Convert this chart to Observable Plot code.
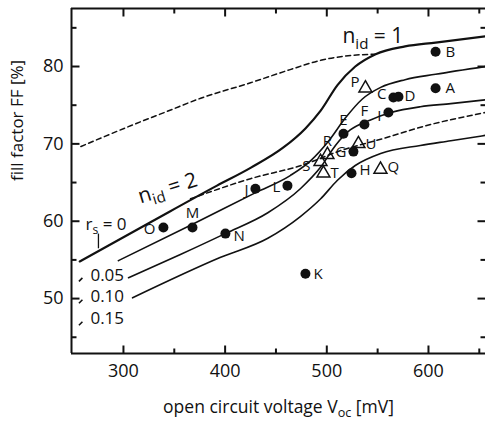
<!DOCTYPE html>
<html><head><meta charset="utf-8">
<script src="https://cdn.jsdelivr.net/npm/d3@7"></script>
<script src="https://cdn.jsdelivr.net/npm/@observablehq/plot@0.6"></script>
<style>html,body{margin:0;padding:0;background:#fff;overflow:hidden} svg{display:block}</style>
</head><body><div id="chart"></div>
<script>
// ---------- data ----------
const pointNames = ["A","B","C","D","E","F","G","H","I","J","K","L","M","N","O","P","Q","R","S","T","U"];
const pointVoc  = [607,607,565.5,570.5,516.4,537,526.2,524.3,560.6,429.8,479,461.3,367.9,400.3,339.3,538,552.8,500.6,493.8,496.7,531.1];
const pointFF   = [77.2,81.9,76.0,76.1,71.3,72.5,69.0,66.2,74.05,64.2,53.2,64.6,59.2,58.4,59.2,77.2,66.7,68.6,67.7,66.2,70.0];
const pointKind = ["dot","dot","dot","dot","dot","dot","dot","dot","dot","dot","dot","dot","dot","dot","dot","tri","tri","tri","tri","tri","tri"];

const rs0Voc   = [257,327,392,425,457,479,494,510.5,528,548,577,607,656];
const rs0FF    = [54.8,59.9,64.6,66.9,69.5,72.0,74.3,77.6,80.0,81.6,82.6,83.1,83.9];
const rs005Voc = [295,368,430,464,484,502,518,535,553,577,607,656];
const rs005FF  = [54.9,59.6,63.7,65.9,67.8,70.4,73.3,75.8,77.3,78.3,79.0,80.0];
const rs010Voc = [305,356,400,442,474,494,508.5,523,543,563,592,622,656];
const rs010FF  = [52.7,55.7,58.4,61.1,64.2,67.0,69.8,71.8,73.1,74.05,74.8,75.2,75.7];
const rs015Voc = [309,395,442,474,494,510.5,528,553,592,622,656];
const rs015FF  = [50.1,55.3,57.8,60.6,62.9,65.3,67.2,68.75,69.8,70.4,71.1];
const n1DashVoc = [258,310,343,376,425,464,494,518,548];
const n1DashFF  = [69.65,72.5,74.2,75.9,77.9,79.6,80.8,81.35,81.6];
const n2DashVoc = [366,425,477,513,553,602,656];
const n2DashFF  = [62.9,65.5,67.3,69.1,70.6,72.5,74.05];

const xMajor = [300,400,500,600];
const xMinor = [350,450,550,650];
const yMajor = [50,60,70,80];
const yMinor = [45,55,65,75,85];

const rsLabels = ["0.05","0.10","0.15"];
const rsLabelVoc = [267.5,267.5,267.5];
const rsLabelFF  = [52.33,49.5,46.65];

// ---------- layout ----------
const W = 485, H = 422, mL = 71, mR = 0, mT = 8, mB = 69;
const xDom = [248.9, 656.1], yDom = [42.9, 87.5];
const pxX = (W - mL - mR) / (xDom[1] - xDom[0]);
const pxY = (H - mT - mB) / (yDom[1] - yDom[0]);
const font = "'Open Sans', 'Noto Sans', sans-serif";

const toRows = (xs, ys) => xs.map((x, i) => ({x, y: ys[i]}));
const points = pointNames.map((n, i) => ({name: n, x: pointVoc[i], y: pointFF[i], kind: pointKind[i]}));

// label placement (style only)
const labelOffset = {
  A:[10,0,"start"], B:[10,0,"start"], C:[-7,-3,"end"], D:[6,0,"start"], E:[0,-14,"middle"],
  F:[0,-13,"middle"], G:[-7,1,"end"], H:[8,-3,"start"], I:[-7,4,"end"], J:[-7,1,"end"],
  K:[8,0,"start"], L:[-7,2,"end"], M:[0,-14,"middle"], N:[8,3,"start"], O:[-8,2,"end"],
  P:[-6,-6,"end"], Q:[7,-2,"start"], R:[0,-14,"middle"], S:[-10,5,"end"], T:[7,0,"start"], U:[7,0,"start"]
};

const tickRules = (vals, len, axis, at, dir) => vals.map(v => axis === "x"
  ? {x: v, y1: at, y2: at + dir * len / pxY}
  : {y: v, x1: at, x2: at + dir * len / pxX});

const xTicks = [
  ...tickRules(xMajor, 8, "x", yDom[0], 1), ...tickRules(xMinor, 5, "x", yDom[0], 1),
  ...tickRules(xMajor, 8, "x", yDom[1], -1), ...tickRules(xMinor, 5, "x", yDom[1], -1)
];
const yTicks = [
  ...tickRules(yMajor, 8, "y", xDom[0], 1), ...tickRules(yMinor, 5, "y", xDom[0], 1),
  ...tickRules(yMajor, 8, "y", xDom[1], -1), ...tickRules(yMinor, 5, "y", xDom[1], -1)
];

const rsMarks = rsLabelVoc.map((x, i) => ({x1: x - 11.5/pxX, y1: rsLabelFF[i] - 0.1, x2: x - 8/pxX, y2: rsLabelFF[i] + 0.35}));

const solid = {x: "x", y: "y", stroke: "#111", strokeWidth: 1.6, curve: "monotone-x"};
const dashed = {x: "x", y: "y", stroke: "#111", strokeWidth: 1.5, strokeDasharray: "5,3.5", curve: "monotone-x"};

const chart = Plot.plot({
  width: W, height: H, marginLeft: mL, marginRight: mR, marginTop: mT, marginBottom: mB,
  style: {fontFamily: font, background: "#fff", color: "#111", overflow: "visible"},
  x: {domain: xDom, axis: null},
  y: {domain: yDom, axis: null},
  marks: [
    // curves
    Plot.line(toRows(n1DashVoc, n1DashFF), dashed),
    Plot.line(toRows(n2DashVoc, n2DashFF), dashed),
    Plot.line(toRows(rs0Voc, rs0FF), {...solid, strokeWidth: 2.2}),
    Plot.line(toRows(rs005Voc, rs005FF), solid),
    Plot.line(toRows(rs010Voc, rs010FF), solid),
    Plot.line(toRows(rs015Voc, rs015FF), solid),
    // frame
    Plot.ruleX([xDom[0]], {stroke: "#111", strokeWidth: 2}),
    Plot.ruleY([yDom[0], yDom[1]], {stroke: "#111", strokeWidth: 2}),
    Plot.link(xTicks, {x1: "x", x2: "x", y1: "y1", y2: "y2", stroke: "#111", strokeWidth: 2}),
    Plot.link(yTicks, {y1: "y", y2: "y", x1: "x1", x2: "x2", stroke: "#111", strokeWidth: 2}),
    Plot.axisX({ticks: xMajor, tickSize: 0, tickPadding: 11, fontSize: 18, label: null, anchor: "bottom"}),
    Plot.axisY({ticks: yMajor, tickSize: 0, tickPadding: 8, fontSize: 18, label: null, anchor: "left"}),
    // data points
    Plot.dot(points.filter(d => d.kind === "dot"), {x: "x", y: "y", r: 5, fill: "#111", stroke: "none"}),
    Plot.dot(points.filter(d => d.kind === "tri"), {x: "x", y: "y", r: 4.8, symbol: "triangle", fill: "none", stroke: "#111", strokeWidth: 1.5}),
    ...points.map(d => Plot.text([d], {x: "x", y: "y", text: "name", dx: labelOffset[d.name][0], dy: labelOffset[d.name][1],
      textAnchor: labelOffset[d.name][2], fontSize: 15, fill: "#111"})),
    // annotations
    Plot.text([{x: 515.4, y: 83.0, t: "n_{id} = 1"}], {x: "x", y: "y", text: "t", textAnchor: "start", lineAnchor: "bottom", fontSize: 21, fill: "#111"}),
    Plot.text([{x: 316.7, y: 62.3, t: "n_{id} = 2"}], {x: "x", y: "y", text: "t", textAnchor: "start", lineAnchor: "bottom", fontSize: 21, rotate: -17, fill: "#111"}),
    Plot.text([{x: 262.6, y: 58.9, t: "r_{s} = 0"}], {x: "x", y: "y", text: "t", textAnchor: "start", lineAnchor: "bottom", fontSize: 17, fill: "#111"}),
    Plot.link([{x: 275.4, y1: 58.4, y2: 56.5}], {x1: "x", x2: "x", y1: "y1", y2: "y2", stroke: "#111", strokeWidth: 1.3}),
    Plot.text(rsLabels.map((t, i) => ({t, x: rsLabelVoc[i], y: rsLabelFF[i]})), {x: "x", y: "y", text: "t", textAnchor: "start", lineAnchor: "bottom", fontSize: 17, fill: "#111"}),
    Plot.link(rsMarks, {x1: "x1", x2: "x2", y1: "y1", y2: "y2", stroke: "#111", strokeWidth: 1.6}),
    // axis titles
    Plot.text(["fill factor FF [%]"], {frameAnchor: "left", dx: -54, rotate: -90, fontSize: 17, fill: "#111"}),
    Plot.text(["open circuit voltage V_{oc} [mV]"], {frameAnchor: "bottom", dy: 59, lineAnchor: "bottom", fontSize: 17.5, fill: "#111"})
  ]
});

document.getElementById("chart").appendChild(chart);

// subscripts
d3.select(chart).selectAll("text").each(function () {
  const t = this.textContent;
  if (!t.includes("_{")) return;
  const fs = parseFloat(getComputedStyle(this).fontSize) || 16;
  const parts = t.split(/(_\{[^}]*\})/).filter(p => p);
  this.textContent = "";
  let down = false;
  for (const p of parts) {
    const ts = d3.select(this).append("tspan");
    if (p.startsWith("_{")) {
      ts.text(p.slice(2, -1)).attr("font-size", fs * 0.72).attr("dy", fs * 0.25);
      down = true;
    } else {
      ts.text(p);
      if (down) { ts.attr("dy", -fs * 0.25); down = false; }
    }
  }
});
</script>
</body></html>
